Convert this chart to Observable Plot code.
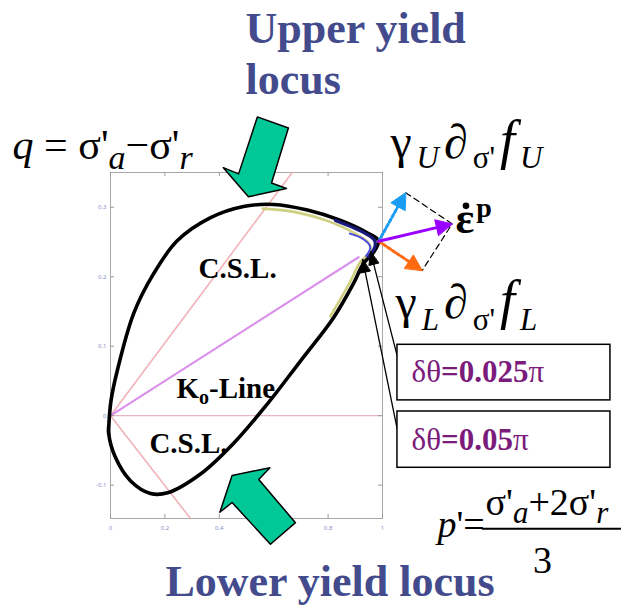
<!DOCTYPE html>
<html><head><meta charset="utf-8">
<script src="https://cdn.jsdelivr.net/npm/d3@7"></script>
<script src="https://cdn.jsdelivr.net/npm/@observablehq/plot@0.6"></script>
<style>html,body{margin:0;padding:0;background:#fff}#chart svg{display:block;overflow:visible}</style>
</head><body><div id="chart"></div>
<script>
// ---------------- data (axis units: p' horizontal, q vertical) ----------------
const xTicks = [0, 0.2, 0.4, 0.6, 0.8, 1];
const xTickLabels = ["0", "0.2", "0.4", "0.6", "0.8", "1"];
const yTicks = [-0.1, 0, 0.1, 0.2, 0.3];
const yTickLabels = ["-0.1", "0", "0.1", "0.2", "0.3"];

// yield locus (upper branch left->tip, lower branch tip->left)
const upperP = [-0.006, 0.002, 0.025, 0.085, 0.158, 0.246, 0.368, 0.489, 0.599, 0.724, 0.846, 0.945, 0.985];
const upperQ = [-0.012, 0.022, 0.065, 0.147, 0.204, 0.252, 0.285, 0.301, 0.304, 0.296, 0.281, 0.263, 0.252];
const lowerP = [0.967, 0.930, 0.893, 0.820, 0.699, 0.577, 0.452, 0.331, 0.210, 0.147, 0.074, 0.018, -0.007];
const lowerQ = [0.235, 0.219, 0.190, 0.141, 0.079, 0.017, -0.040, -0.084, -0.111, -0.112, -0.094, -0.060, -0.025];
// neighbouring loci near the tip (other δθ)
const tipP = [0.827, 0.890, 0.938, 0.971, 0.971, 0.949];
const tipQ = [0.281, 0.271, 0.262, 0.252, 0.242, 0.229];
const tip2P = [0.880, 0.930, 0.955, 0.940];
const tip2Q = [0.262, 0.254, 0.243, 0.230];
const tintP = [0.560, 0.680, 0.800, 0.900, 0.950, 0.955, 0.918, 0.880, 0.808];
const tintQ = [0.298, 0.293, 0.280, 0.262, 0.248, 0.236, 0.221, 0.192, 0.143];

// critical state lines and K0 line
const cslUpP = [0, 0.668], cslUpQ = [0, 0.35];
const cslLoP = [0, 0.294], cslLoQ = [0, -0.148];
const k0P = [0, 0.912], k0Q = [0, 0.228];

// big green arrows (outline vertices)
const upArrowP = [0.540, 0.654, 0.592, 0.647, 0.507, 0.415, 0.471];
const upArrowQ = [0.430, 0.414, 0.335, 0.327, 0.315, 0.357, 0.348];
const loArrowP = [0.447, 0.586, 0.545, 0.680, 0.588, 0.447, 0.402];
const loArrowQ = [-0.086, -0.075, -0.092, -0.154, -0.185, -0.125, -0.139];

// plastic flow vectors at the tip
const flowOrigin = [0.986, 0.251];
const flowUpperTip = [1.085, 0.321];
const flowTotalTip = [1.256, 0.276];
const flowLowerTip = [1.146, 0.209];

// pointer arrows from boxes to the tip
const ptrFromP = [1.054, 1.054], ptrFromQ = [0.086, -0.019];
const ptrToP = [0.956, 0.927], ptrToQ = [0.236, 0.225];

// boxes
const boxX1 = [1.055, 1.055], boxX2 = [1.838, 1.838];
const boxY1 = [0.022, -0.075], boxY2 = [0.102, 0.006];

// labels
const titleLines = ["Upper yield", "locus"];
const titleP = [0.496, 0.496], titleQ = [0.537, 0.463];
const lowerTitle = ["Lower yield locus"], lowerTitleP = [0.202], lowerTitleQ = [-0.259];
const cslLabels = ["C.S.L.", "C.S.L."], cslLabelP = [0.3235, 0.143], cslLabelQ = [0.1986, -0.0532];
const fracBarP = [1.368, 1.875], fracBarQ = [-0.1626, -0.1626];
const denom = ["3"], denomP = [1.588], denomQ = [-0.226];
const rateDotP = [1.307], rateDotQ = [0.302]; // time-derivative dot over ε

// rich text pieces: [text, {i: italic, b: bold, sub, sup, size}]
const rich = [
  {p: -0.360, q: 0.370, size: 42, segs: [["q", {i: 1}], [" = σ'"], ["a", {i: 1, sub: 1}], ["−σ'"], ["r", {i: 1, sub: 1}]], sub: 34, shift: 10},
  {p: 1.029, q: 0.371, size: 48, segs: [["γ"], ["U", {i: 1, sub: 1}], ["∂"], ["σ'", {sub: 1}], ["f", {i: 1, size: 54}], ["U", {i: 1, sub: 1}]], sub: 31, shift: 10, dx: 5},
  {p: 1.048, q: 0.141, size: 48, segs: [["γ"], ["L", {i: 1, sub: 1}], ["∂"], ["σ'", {sub: 1}], ["f", {i: 1, size: 54}], ["L", {i: 1, sub: 1}]], sub: 31, shift: 12, dx: 5},
  {p: 1.268, q: 0.263, size: 44, segs: [["ε", {b: 1}], ["p", {b: 1, sup: 1}]], sub: 28, shift: 16, dx: 2},
  {p: 0.2426, q: 0.0259, size: 29, segs: [["K", {b: 1}], ["o", {b: 1, sub: 1}], ["-Line", {b: 1}]], sub: 20, shift: 6},
  {p: 1.107, q: 0.049, size: 31, fill: "#7b1b7b", segs: [["δθ"], ["=0.025", {b: 1}], ["π"]]},
  {p: 1.107, q: -0.049, size: 31, fill: "#7b1b7b", segs: [["δθ"], ["=0.05", {b: 1}], ["π"]]},
  {p: 1.202, q: -0.175, size: 38, segs: [["p", {i: 1}], ["'="]]},
  {p: 1.379, q: -0.1424, size: 38, segs: [["σ'"], ["a", {i: 1, sub: 1}], ["+2σ'"], ["r", {i: 1, sub: 1}]], sub: 31, shift: 8}
];

// ---------------- layout ----------------
const W = 621, H = 608;
const M = {l: 110, r: 239, t: 172, b: 90};
const xDom = [0, 1], yDom = [-0.148, 0.35];
const kx = (W - M.l - M.r) / (xDom[1] - xDom[0]);
const ky = (H - M.t - M.b) / (yDom[1] - yDom[0]);
const SERIF = "Liberation Serif, Times New Roman, serif";

const zip = (P, Q) => P.map((p, i) => [p, Q[i]]);
function head(tip, from, len, hw) {
  const dx = (tip[0] - from[0]) * kx, dy = (tip[1] - from[1]) * ky;
  const d = Math.hypot(dx, dy), ux = dx / d, uy = dy / d;
  const bx = tip[0] * kx - ux * len, by = tip[1] * ky - uy * len;
  const nx = -uy, ny = ux;
  return {pts: [tip, [(bx + nx * hw) / kx, (by + ny * hw) / ky], [(bx - nx * hw) / kx, (by - ny * hw) / ky]], base: [bx / kx, by / ky]};
}
const X = d => d[0], Y = d => d[1];

const locus = zip(upperP, upperQ).concat(zip(lowerP, lowerQ));
const marks = [];
marks.push(Plot.frame({stroke: "#a8a8a8", strokeWidth: 1}));
marks.push(Plot.ruleY([0], {stroke: "#e9b7c0", strokeWidth: 1.3}));
marks.push(Plot.line(zip(cslUpP, cslUpQ), {x: X, y: Y, stroke: "#eba0a8", strokeWidth: 1.6, strokeOpacity: 0.8}));
marks.push(Plot.line(zip(cslLoP, cslLoQ), {x: X, y: Y, stroke: "#eba0a8", strokeWidth: 1.6, strokeOpacity: 0.8}));
marks.push(Plot.line(zip(k0P, k0Q), {x: X, y: Y, stroke: "#d47ee6", strokeWidth: 2.2, strokeOpacity: 0.85}));
// axes ticks (inward) and tiny labels
const tl = 4;
marks.push(Plot.ruleX(xTicks, {x: d => d, y1: yDom[0], y2: yDom[0] + tl / ky, stroke: "#999"}));
marks.push(Plot.ruleX(xTicks, {x: d => d, y1: yDom[1], y2: yDom[1] - tl / ky, stroke: "#999"}));
marks.push(Plot.ruleY(yTicks, {y: d => d, x1: xDom[0], x2: xDom[0] + tl / kx, stroke: "#999"}));
marks.push(Plot.ruleY(yTicks, {y: d => d, x1: xDom[1], x2: xDom[1] - tl / kx, stroke: "#999"}));
marks.push(Plot.axisX(xTicks, {tickSize: 0, tickPadding: 7, fontSize: 6, color: "#8a90c8", tickFormat: (d, i) => xTickLabels[i]}));
marks.push(Plot.axisY(yTicks, {tickSize: 0, tickPadding: 4, fontSize: 6, color: "#8a90c8", tickFormat: (d, i) => yTickLabels[i]}));
// yield loci
marks.push(Plot.line(zip(tintP, tintQ), {x: X, y: Y, stroke: "#cfcf80", strokeWidth: 2.6, curve: "catmull-rom"}));
marks.push(Plot.line(locus, {x: X, y: Y, stroke: "#000", strokeWidth: 3.6, curve: "catmull-rom-closed"}));
marks.push(Plot.line(zip(tipP, tipQ), {x: X, y: Y, stroke: "#1a1a7a", strokeWidth: 3.2, curve: "catmull-rom"}));
marks.push(Plot.line(zip(tip2P, tip2Q), {x: X, y: Y, stroke: "#4a4ae0", strokeWidth: 2, curve: "catmull-rom"}));
// green arrows
marks.push(Plot.line(zip(upArrowP, upArrowQ), {x: X, y: Y, fill: "#00c896", stroke: "#000", strokeWidth: 1.5, curve: "linear-closed"}));
marks.push(Plot.line(zip(loArrowP, loArrowQ), {x: X, y: Y, fill: "#00c896", stroke: "#000", strokeWidth: 1.5, curve: "linear-closed"}));
// flow vectors
marks.push(Plot.line([flowUpperTip, flowTotalTip, flowLowerTip], {x: X, y: Y, stroke: "#000", strokeWidth: 1.2, strokeDasharray: "6,4"}));
const vecs = [
  {tip: flowUpperTip, color: "#1a9cf2", dash: "3,2.5"},
  {tip: flowLowerTip, color: "#ff6a10", dash: "3,2.5"},
  {tip: flowTotalTip, color: "#9a00ff", dash: null}
];
for (const v of vecs) {
  const h = head(v.tip, flowOrigin, 16, 8);
  marks.push(Plot.line([flowOrigin, h.base], {x: X, y: Y, stroke: v.color, strokeWidth: 3, strokeDasharray: v.dash}));
  marks.push(Plot.line(h.pts, {x: X, y: Y, fill: v.color, stroke: v.color, strokeWidth: 1, curve: "linear-closed"}));
}
// pointer arrows
for (let i = 0; i < ptrFromP.length; i++) {
  const from = [ptrFromP[i], ptrFromQ[i]], to = [ptrToP[i], ptrToQ[i]];
  const h = head(to, from, 13, 5);
  marks.push(Plot.line([from, h.base], {x: X, y: Y, stroke: "#000", strokeWidth: 1.3}));
  marks.push(Plot.line(h.pts, {x: X, y: Y, fill: "#000", stroke: "#000", strokeWidth: 1, curve: "linear-closed"}));
}
// boxes
marks.push(Plot.rect(boxX1, {x1: (d, i) => boxX1[i], x2: (d, i) => boxX2[i], y1: (d, i) => boxY1[i], y2: (d, i) => boxY2[i], fill: "#fff", stroke: "#000", strokeWidth: 1.5}));
// plain text
const T = {textAnchor: "start", lineAnchor: "bottom", fontFamily: SERIF};
marks.push(Plot.text(titleLines, {...T, x: (d, i) => titleP[i], y: (d, i) => titleQ[i], text: d => d, fontSize: 44, fontWeight: "bold", fill: "#434b8c"}));
marks.push(Plot.text(lowerTitle, {...T, x: (d, i) => lowerTitleP[i], y: (d, i) => lowerTitleQ[i], text: d => d, fontSize: 44, fontWeight: "bold", fill: "#434b8c"}));
marks.push(Plot.text(cslLabels, {...T, x: (d, i) => cslLabelP[i], y: (d, i) => cslLabelQ[i], text: d => d, fontSize: 29, fontWeight: "bold", fill: "#000"}));
marks.push(Plot.line(zip(fracBarP, fracBarQ), {x: X, y: Y, stroke: "#000", strokeWidth: 2}));
marks.push(Plot.text(denom, {...T, textAnchor: "middle", x: (d, i) => denomP[i], y: (d, i) => denomQ[i], text: d => d, fontSize: 38, fill: "#000"}));
marks.push(Plot.dot(rateDotP, {x: (d, i) => rateDotP[i], y: (d, i) => rateDotQ[i], r: 3.3, fill: "#000"}));
// rich text (plain string first, split into styled tspans after rendering)
for (const r of rich) {
  r.plain = r.segs.map(s => s[0]).join("");
  marks.push(Plot.text([r.plain], {...T, x: [r.p], y: [r.q], text: d => d, fontSize: r.size, fill: r.fill || "#000"}));
}

const svg = Plot.plot({
  width: W, height: H,
  marginLeft: M.l, marginRight: M.r, marginTop: M.t, marginBottom: M.b,
  x: {domain: xDom}, y: {domain: yDom},
  style: {background: "#fff", overflow: "visible"},
  marks
});

const allText = Array.from(svg.querySelectorAll("text"));
for (const r of rich) {
  const el = allText.find(e => e.textContent === r.plain);
  if (!el) continue;
  const t = d3.select(el);
  t.text(null);
  let shift = 0;
  r.segs.forEach(([s, o = {}], k) => {
    const small = o.sub || o.sup;
    const target = o.sub ? r.shift : o.sup ? -r.shift : 0;
    const ts = t.append("tspan").text(s).attr("font-size", o.size || (small ? r.sub : r.size));
    if (target !== shift) ts.attr("dy", target - shift);
    if (r.dx && k > 0) ts.attr("dx", r.dx);
    shift = target;
    ts.attr("font-style", o.i ? "italic" : "normal").attr("font-weight", o.b ? "bold" : "normal");
  });
}
document.getElementById("chart").appendChild(svg);
</script>
</body></html>
